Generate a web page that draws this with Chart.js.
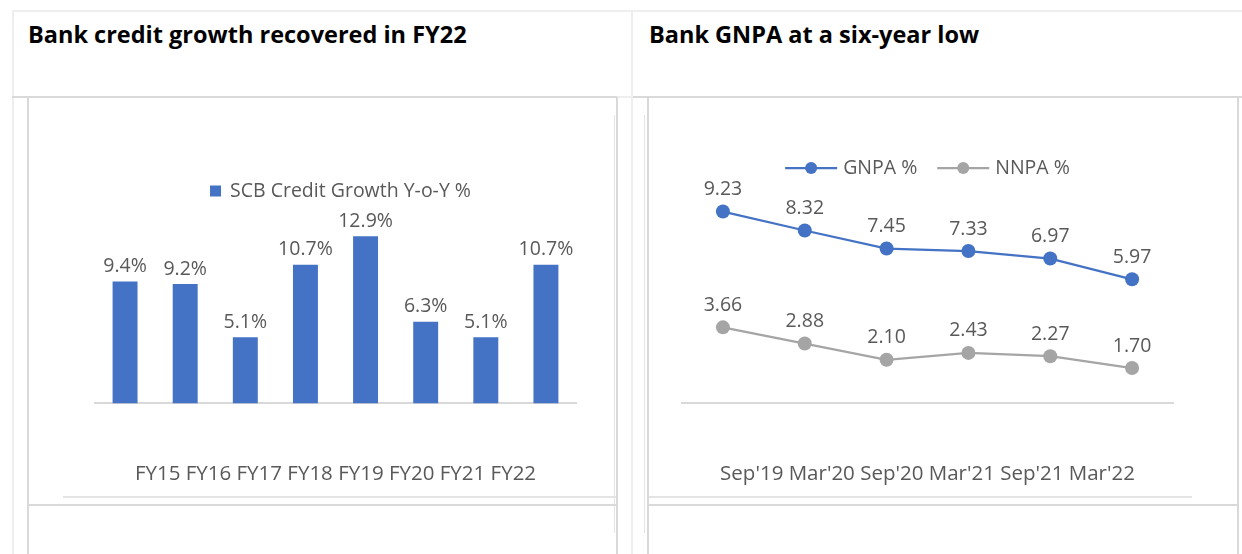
<!DOCTYPE html>
<html><head><meta charset="utf-8">
<script src="https://cdn.jsdelivr.net/npm/chart.js@4.4.1/dist/chart.umd.min.js"></script>
<style>
html,body{margin:0;padding:0;background:#fff;width:1242px;height:554px;overflow:hidden;position:relative;font-family:"Open Sans",sans-serif}
.g{position:absolute;background:#d9d9d9}
.f{position:absolute;background:#eeeeee}
.h{position:absolute;background:#e4e4e4}
.t{position:absolute;font-weight:700;font-size:23.5px;color:#000;top:18px;white-space:nowrap;line-height:normal}
canvas{position:absolute}
</style></head><body>
<div class="f" style="left:12px;top:10px;width:1230px;height:2px"></div>
<div class="f" style="left:12px;top:10px;width:2px;height:544px"></div>
<div class="f" style="left:631px;top:10px;width:2px;height:544px"></div>
<div class="g" style="left:12px;top:96px;width:605px;height:2px"></div>
<div class="f" style="left:617px;top:96px;width:16px;height:2px"></div>
<div class="g" style="left:633px;top:96px;width:609px;height:2px"></div>
<div class="g" style="left:27px;top:97px;width:2px;height:457px"></div>
<div class="g" style="left:616px;top:97px;width:2px;height:457px"></div>
<div class="g" style="left:647px;top:97px;width:2px;height:457px"></div>
<div class="g" style="left:1237px;top:97px;width:2px;height:457px"></div>
<div class="h" style="left:614px;top:115px;width:1px;height:418px"></div>
<div class="h" style="left:644px;top:115px;width:1px;height:418px"></div>
<div class="g" style="left:27px;top:504px;width:591px;height:2px"></div>
<div class="g" style="left:647px;top:504px;width:592px;height:2px"></div>
<div class="h" style="left:63px;top:496px;width:553px;height:2px"></div>
<div class="h" style="left:649px;top:496px;width:543px;height:2px"></div>
<div class="t" style="left:28px">Bank credit growth recovered in FY22</div>
<div class="t" style="left:649px">Bank GNPA at a six-year low</div>
<canvas id="c1" width="588" height="405" style="left:28px;top:99px"></canvas>
<canvas id="c2" width="588" height="405" style="left:648px;top:99px"></canvas>
<script>
// ---- data ----
const creditCategories = ['FY15','FY16','FY17','FY18','FY19','FY20','FY21','FY22'];
const creditGrowth = [9.4, 9.2, 5.1, 10.7, 12.9, 6.3, 5.1, 10.7];
const creditSeriesName = 'SCB Credit Growth Y-o-Y %';
const npaCategories = ["Sep'19", "Mar'20", "Sep'20", "Mar'21", "Sep'21", "Mar'22"];
const gnpa = [9.23, 8.32, 7.45, 7.33, 6.97, 5.97];
const nnpa = [3.66, 2.88, 2.10, 2.43, 2.27, 1.70];
const gnpaName = 'GNPA %';
const nnpaName = 'NNPA %';

const FONT = '"Open Sans", sans-serif';
const TXT = '#595959';
const BLUE = '#4472C4';
const GREY = '#A5A5A5';

const valueLabels = {
  id: 'valueLabels',
  afterDatasetsDraw(chart, args, opts) {
    const ctx = chart.ctx;
    ctx.save();
    ctx.font = opts.size + 'px ' + FONT;
    ctx.fillStyle = TXT;
    ctx.textAlign = 'center';
    ctx.textBaseline = 'middle';
    chart.data.datasets.forEach((ds, i) => {
      const meta = chart.getDatasetMeta(i);
      meta.data.forEach((el, j) => {
        ctx.fillText(ds.data[j].toFixed(opts.decimals) + opts.suffix, el.x, el.y - opts.offset);
      });
    });
    ctx.restore();
  }
};

const customLegend = {
  id: 'customLegend',
  afterDraw(chart, args, opts) {
    const ctx = chart.ctx;
    ctx.save();
    ctx.font = opts.size + 'px ' + FONT;
    ctx.textBaseline = 'middle';
    const items = chart.data.datasets.map(ds => ({
      text: ds.label,
      color: ds.legendColor,
      w: ctx.measureText(ds.label).width
    }));
    const symW = opts.symbolWidth, gap = opts.gap, itemGap = opts.itemGap;
    const total = items.reduce((s, it) => s + symW + gap + it.w, 0) + itemGap * (items.length - 1);
    let x = (chart.chartArea.left + chart.chartArea.right) / 2 - total / 2 + opts.shift;
    const y = opts.y;
    items.forEach(it => {
      if (opts.symbol === 'box') {
        ctx.fillStyle = it.color;
        ctx.fillRect(x, y - symW / 2, symW, symW);
      } else {
        ctx.strokeStyle = it.color;
        ctx.lineWidth = 2.25;
        ctx.beginPath();
        ctx.moveTo(x, y);
        ctx.lineTo(x + symW, y);
        ctx.stroke();
        ctx.fillStyle = it.color;
        ctx.beginPath();
        ctx.arc(x + symW / 2, y, 6, 0, Math.PI * 2);
        ctx.fill();
      }
      ctx.fillStyle = TXT;
      ctx.textAlign = 'left';
      ctx.fillText(it.text, x + symW + gap, y);
      x += symW + gap + it.w + itemGap;
    });
    ctx.restore();
  }
};

new Chart(document.getElementById('c1'), {
  type: 'bar',
  data: {
    labels: creditCategories,
    datasets: [{
      label: creditSeriesName,
      data: creditGrowth,
      backgroundColor: BLUE,
      legendColor: BLUE,
      borderWidth: 0,
      categoryPercentage: 1,
      barPercentage: 0.415
    }]
  },
  options: {
    responsive: false,
    animation: false,
    events: [],
    layout: { padding: { left: 67, right: 40, top: 71, bottom: 18 } },
    plugins: {
      legend: { display: false },
      tooltip: { enabled: false },
      valueLabels: { size: 19.5, decimals: 1, suffix: '%', offset: 15 },
      customLegend: { size: 19.5, symbol: 'box', symbolWidth: 11, gap: 9, itemGap: 20, y: 92, shift: 5 }
    },
    scales: {
      y: { display: false, min: 0, max: 18 },
      x: {
        grid: { display: false, drawTicks: false },
        border: { display: true, color: '#d9d9d9', width: 2 },
        ticks: { display: false },
        title: {
          display: true,
          text: creditCategories.join(' '),
          color: TXT,
          font: { family: FONT, size: 20.5, lineHeight: 1.2 },
          padding: { top: 58, bottom: 0 }
        }
      }
    }
  },
  plugins: [valueLabels, customLegend]
});

new Chart(document.getElementById('c2'), {
  type: 'line',
  data: {
    labels: npaCategories,
    datasets: [{
      label: gnpaName,
      data: gnpa,
      borderColor: BLUE,
      backgroundColor: BLUE,
      legendColor: BLUE,
      pointBackgroundColor: BLUE,
      pointBorderColor: BLUE,
      borderWidth: 2.25,
      pointRadius: 7,
      pointBorderWidth: 0,
      tension: 0
    }, {
      label: nnpaName,
      data: nnpa,
      borderColor: GREY,
      backgroundColor: GREY,
      legendColor: GREY,
      pointBackgroundColor: GREY,
      pointBorderColor: GREY,
      borderWidth: 2.25,
      pointRadius: 7,
      pointBorderWidth: 0,
      tension: 0
    }]
  },
  options: {
    responsive: false,
    animation: false,
    events: [],
    layout: { padding: { left: 34, right: 63, top: 55, bottom: 18 } },
    plugins: {
      legend: { display: false },
      tooltip: { enabled: false },
      valueLabels: { size: 19.5, decimals: 2, suffix: '', offset: 22 },
      customLegend: { size: 19.5, symbol: 'line', symbolWidth: 52, gap: 6, itemGap: 20, y: 69, shift: 0 }
    },
    scales: {
      y: { display: false, min: 0, max: 12 },
      x: {
        offset: true,
        grid: { display: false, drawTicks: false },
        border: { display: true, color: '#d9d9d9', width: 2 },
        ticks: { display: false },
        title: {
          display: true,
          text: npaCategories.join(' '),
          color: TXT,
          font: { family: FONT, size: 20.5, lineHeight: 1.2 },
          padding: { top: 58, bottom: 0 }
        }
      }
    }
  },
  plugins: [valueLabels, customLegend]
});
</script>
</body></html>
